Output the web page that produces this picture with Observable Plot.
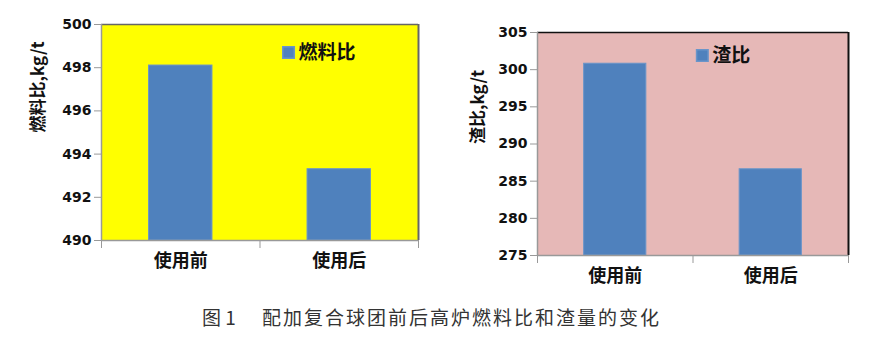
<!DOCTYPE html>
<html>
<head>
<meta charset="utf-8">
<script src="https://cdn.jsdelivr.net/npm/d3@7"></script>
<script src="https://cdn.jsdelivr.net/npm/@observablehq/plot@0.6"></script>
<style>
  html, body { margin: 0; padding: 0; background: #fff; }
  #wrap { position: relative; width: 873px; height: 338px; overflow: hidden; }
  #left { position: absolute; left: 0; top: 0; }
  #right { position: absolute; left: 440px; top: 0; }
  #caption { position: absolute; left: 202px; top: 306px; white-space: nowrap;
    font-family: "Noto Sans CJK SC", sans-serif; font-size: 19px; color: #333; line-height: 22px; }
  #caption .num { display: inline-block; width: 60px; }
  #caption .txt { letter-spacing: 2px; }
</style>
</head>
<body>
<div id="wrap">
  <div id="left"></div>
  <div id="right"></div>
  <div id="caption"><span class="num">图 1</span><span class="txt">配加复合球团前后高炉燃料比和渣量的变化</span></div>
</div>
<script>
const categories = ["使用前", "使用后"];
const fuelRatio = [498.1, 493.3];
const slagRatio = [300.8, 286.6];
const fuelTicks = [490, 492, 494, 496, 498, 500];
const slagTicks = [275, 280, 285, 290, 295, 300, 305];

function chart({values, ticks, bg, topRight, legend, ylabel, width, marginLeft, marginRight, marginTop, marginBottom, legendX, legendY, labelDx}) {
  const rows = categories.map((c, i) => ({i, cat: c, v: values[i]}));
  const ymin = ticks[0], ymax = ticks[ticks.length - 1];
  return Plot.plot({
    width, height: 290,
    marginLeft, marginRight, marginTop, marginBottom,
    style: {fontFamily: "'Noto Sans CJK SC', sans-serif", background: "transparent", overflow: "visible"},
    x: {domain: [0, categories.length], axis: null},
    y: {domain: [ymin, ymax], axis: null},
    marks: [
      Plot.frame({fill: bg, stroke: "none"}),
      Plot.rectY(rows, {x1: d => d.i + 0.3, x2: d => d.i + 0.7, y1: ymin, y2: "v", fill: "#4F81BD", stroke: "#6a95c9", strokeWidth: 1}),
      Plot.ruleY([ymax], {stroke: topRight, strokeWidth: 1.5}),
      Plot.ruleX([categories.length], {stroke: topRight, strokeWidth: 2}),
      Plot.axisY({ticks, tickSize: 7, tickPadding: 3, stroke: "#999", fontSize: 14, fontWeight: "bold", fontFamily: "'DejaVu Sans', sans-serif", fill: "#111", label: null}),
      Plot.axisX({ticks: d3.range(categories.length + 1), tickFormat: () => "", tickSize: 8, stroke: "#999", label: null}),
      Plot.ruleX([0], {stroke: "#999", strokeWidth: 1.5}),
      Plot.ruleY([ymin], {stroke: "#999", strokeWidth: 1.5}),
      Plot.text(rows, {x: d => d.i + 0.5, frameAnchor: "bottom", text: "cat", dy: 26, fontSize: 18, fontWeight: "bold", fill: "#111"}),
      Plot.text([ylabel], {frameAnchor: "left", text: d => d, rotate: -90, dx: labelDx, fontSize: 17, fontWeight: "bold", fill: "#111"}),
      Plot.dot([legend], {x: legendX, y: legendY, symbol: "square", r: 6.5, fill: "#4F81BD", stroke: "#6a95c9"}),
      Plot.text([legend], {x: legendX, y: legendY, text: d => d, dx: 10, textAnchor: "start", fontSize: 19, fontWeight: "bold", fill: "#111"})
    ]
  });
}

document.getElementById("left").appendChild(chart({
  values: fuelRatio, ticks: fuelTicks, bg: "#FFFF00", topRight: "#666",
  legend: "燃料比", ylabel: "燃料比,kg/t", width: 440,
  marginLeft: 101, marginRight: 22, marginTop: 24, marginBottom: 50,
  legendX: 1.18, legendY: 498.7, labelDx: -63
}));
document.getElementById("right").appendChild(chart({
  values: slagRatio, ticks: slagTicks, bg: "#E6B8B7", topRight: "#111",
  legend: "渣比", ylabel: "渣比,kg/t", width: 433,
  marginLeft: 97, marginRight: 25, marginTop: 32, marginBottom: 35,
  legendX: 1.06, legendY: 301.9, labelDx: -59
}));
</script>
</body>
</html>
